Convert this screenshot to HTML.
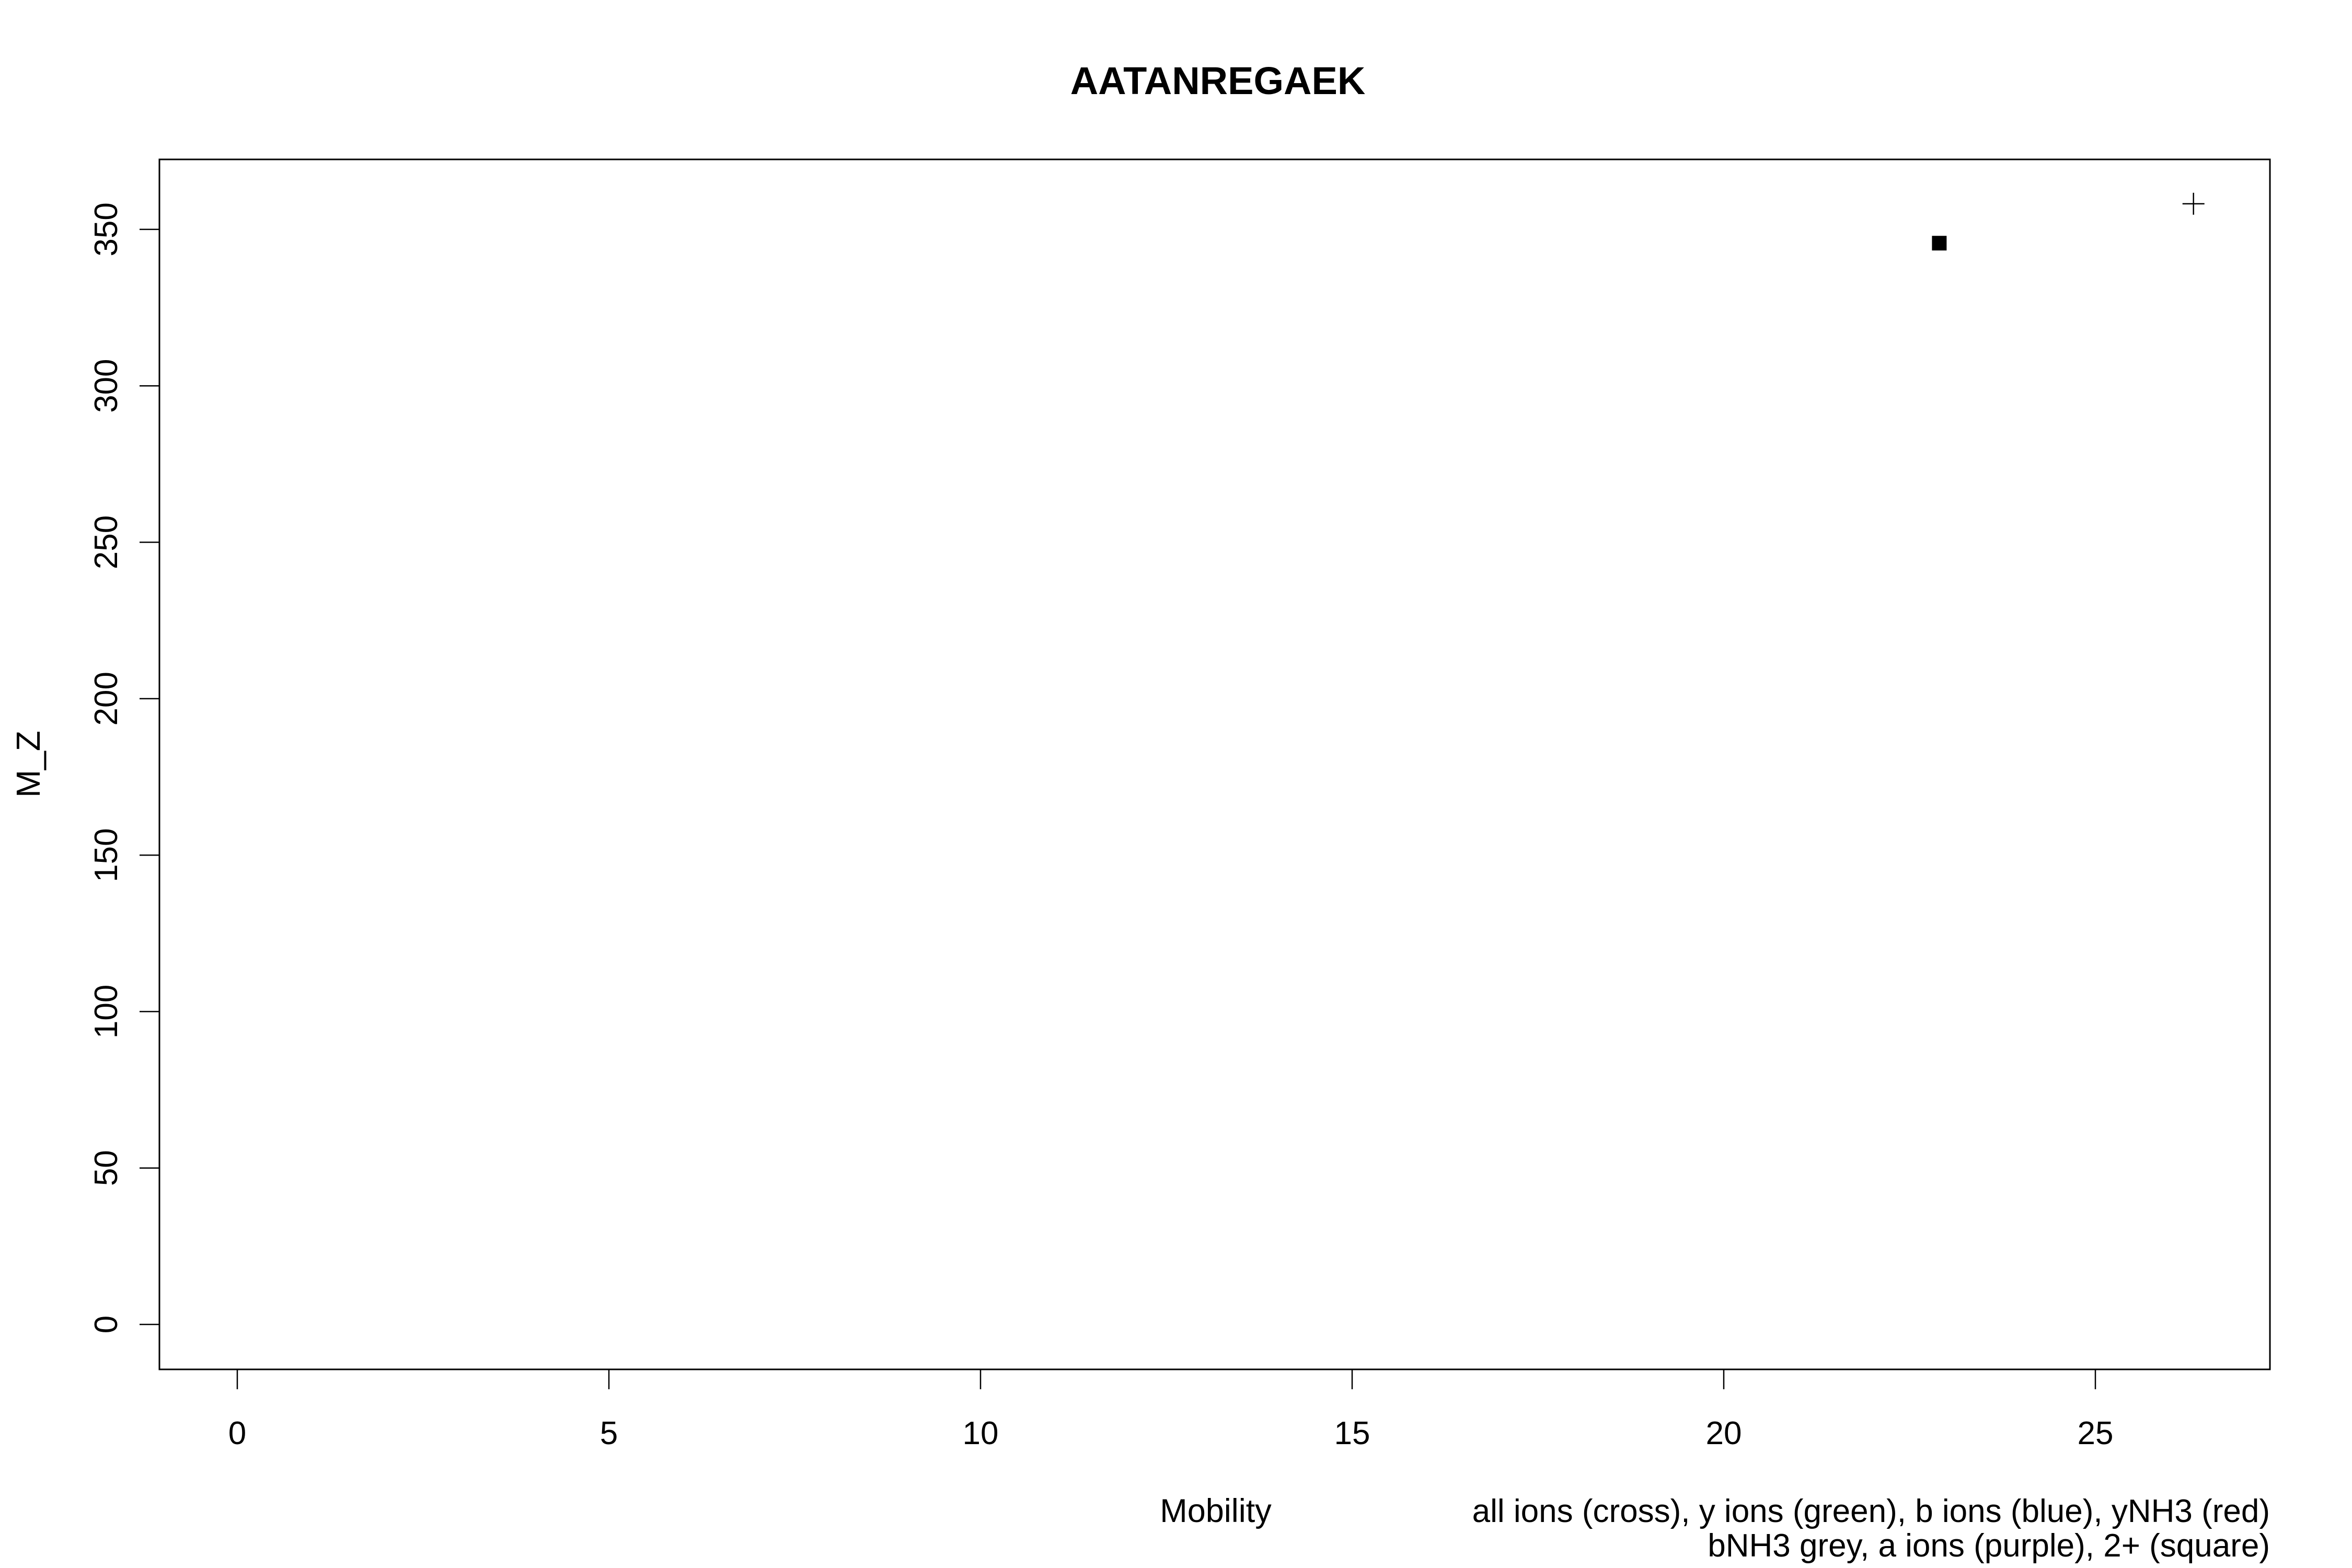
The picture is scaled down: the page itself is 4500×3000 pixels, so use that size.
<!DOCTYPE html>
<html><head><meta charset="utf-8"><style>
html,body{margin:0;padding:0;background:#fff;}
svg{display:block;}
text{font-family:"Liberation Sans",Arial,sans-serif;fill:#000;}
</style></head><body>
<svg id="chart" width="4500" height="3000" viewBox="0 0 4500 3000" xmlns="http://www.w3.org/2000/svg">
<rect width="4500" height="3000" fill="#fff"/>
<text x="2330" y="180" font-size="74" font-weight="bold" text-anchor="middle">AATANREGAEK</text>
<rect x="305" y="305" width="4038" height="2315" fill="none" stroke="#000" stroke-width="3"/>
<g id="xaxis"></g>
<g id="yaxis"></g>
<g id="points"></g>
<text x="2326" y="2912" font-size="63" text-anchor="middle">Mobility</text>
<text x="4343" y="2912" font-size="62" text-anchor="end">all ions (cross), y ions (green), b ions (blue), yNH3 (red)</text>
<text x="4343" y="2978" font-size="62" text-anchor="end">bNH3 grey, a ions (purple), 2+ (square)</text>
<text transform="translate(76,1462) rotate(-90)" font-size="64" text-anchor="middle">M_Z</text>
</svg>
<script>
const xTicks = [0, 5, 10, 15, 20, 25];
const yTicks = [0, 50, 100, 150, 200, 250, 300, 350];
const crossX = [26.32];
const crossY = [358.2];
const squareX = [22.9];
const squareY = [345.6];

const NS = "http://www.w3.org/2000/svg";
function sx(v){ return 454 + v * 142.2; }
function sy(v){ return 2534 - v * 5.986; }
function mk(tag, attrs, parent){
  const e = document.createElementNS(NS, tag);
  for (const k in attrs) e.setAttribute(k, attrs[k]);
  parent.appendChild(e);
  return e;
}
const xa = document.getElementById('xaxis');
xTicks.forEach(t => {
  const l = mk('line', {x1: sx(t), x2: sx(t), y1: 2620, y2: 2658, stroke: '#000', 'stroke-width': 2.5}, xa);
  
  
  const tx = mk('text', {x: sx(t), y: 2763, 'font-size': 62, 'text-anchor': 'middle'}, xa);
  tx.textContent = t;
  
  
});
const ya = document.getElementById('yaxis');
yTicks.forEach(t => {
  const l = mk('line', {x1: 267, x2: 305, y1: sy(t), y2: sy(t), stroke: '#000', 'stroke-width': 2.5}, ya);
  
  
  const tx = mk('text', {transform: 'translate(224,' + sy(t) + ') rotate(-90)', 'font-size': 62, 'text-anchor': 'middle'}, ya);
  tx.textContent = t;
  
  
});
const pts = document.getElementById('points');
crossX.forEach((v, i) => {
  const cx = sx(v), cy = sy(crossY[i]);
  const g = mk('g', {}, pts);
  
  
  mk('line', {x1: cx - 21, x2: cx + 21, y1: cy, y2: cy, stroke: '#000', 'stroke-width': 2.5}, g);
  mk('line', {x1: cx, x2: cx, y1: cy - 21, y2: cy + 21, stroke: '#000', 'stroke-width': 2.5}, g);
});
squareX.forEach((v, i) => {
  const cx = sx(v), cy = sy(squareY[i]);
  const r = mk('rect', {x: cx - 14, y: cy - 14, width: 28, height: 28, fill: '#000'}, pts);
  
  
});
</script>
</body></html>
